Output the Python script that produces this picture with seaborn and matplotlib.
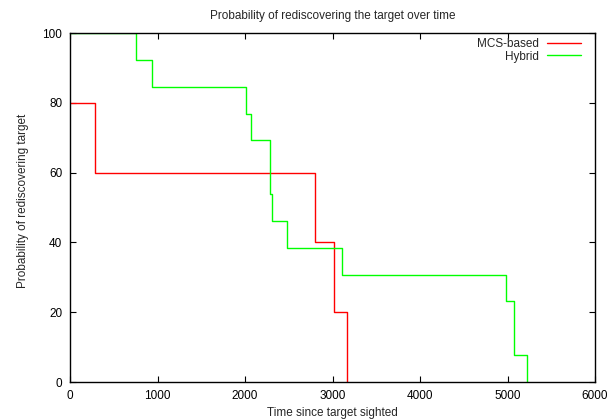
import matplotlib
matplotlib.use("Agg")
import matplotlib.pyplot as plt
import seaborn as sns
import pandas as pd

# Data
mcs_time = [0, 282, 2805, 3013, 3166]
mcs_prob = [80, 60, 40, 20, 0]
hyb_time = [0, 750, 940, 2010, 2065, 2280, 2290, 2312, 2485, 3105, 4985, 5075, 5225]
hyb_prob = [100, 92.3, 84.6, 76.9, 69.2, 61.5, 53.8, 46.2, 38.5, 30.8, 23.1, 7.7, 0]
x_ticks = [0, 1000, 2000, 3000, 4000, 5000, 6000]
y_ticks = [0, 20, 40, 60, 80, 100]

sns.set_style("white")
plt.rcParams['font.family'] = ['Liberation Sans', 'DejaVu Sans']
FS = 8.5
plt.rcParams['font.size'] = FS

fig = plt.figure(figsize=(6.16, 4.19), dpi=100)
ax = fig.add_axes([70/616, 1-382/419, (595-70)/616, (382-33)/419])

mcs = pd.DataFrame({"t": mcs_time, "p": mcs_prob})
hyb = pd.DataFrame({"t": hyb_time, "p": hyb_prob})
sns.lineplot(data=mcs, x="t", y="p", ax=ax, color="#ff0000", lw=1.0,
             drawstyle="steps-post", estimator=None, sort=False, label="MCS-based")
sns.lineplot(data=hyb, x="t", y="p", ax=ax, color="#00ff00", lw=1.0,
             drawstyle="steps-post", estimator=None, sort=False, label="Hybrid")

ax.set_xlim(0, 6000)
ax.set_ylim(0, 100)
ax.set_xticks(x_ticks)
ax.set_yticks(y_ticks)
ax.tick_params(direction="in", length=4, width=0.8, top=True, right=True,
               bottom=True, left=True, labelsize=FS, colors="black")
ax.tick_params(axis="x", pad=5.5)
ax.tick_params(axis="y", pad=5.5)
for s in ax.spines.values():
    s.set_linewidth(1.0)
    s.set_color("black")

ax.set_xlabel("Time since target sighted", fontsize=FS)
ax.xaxis.set_label_coords(0.5, -0.072)
ax.set_ylabel("Probability of rediscovering target", fontsize=FS)
ax.yaxis.set_label_coords(-0.078, 0.52)
ax.set_title("Probability of rediscovering the target over time", fontsize=FS, pad=10)

leg = ax.legend(loc="upper right", bbox_to_anchor=((581-70)/525, (382-38)/349),
                frameon=False, markerfirst=False, fontsize=FS,
                handlelength=2.9, handletextpad=0.68, labelspacing=0.05,
                borderaxespad=0.0, borderpad=0.0)
for t in leg.get_texts():
    t.set_ha("right")

fig.savefig("out.png", dpi=100)
